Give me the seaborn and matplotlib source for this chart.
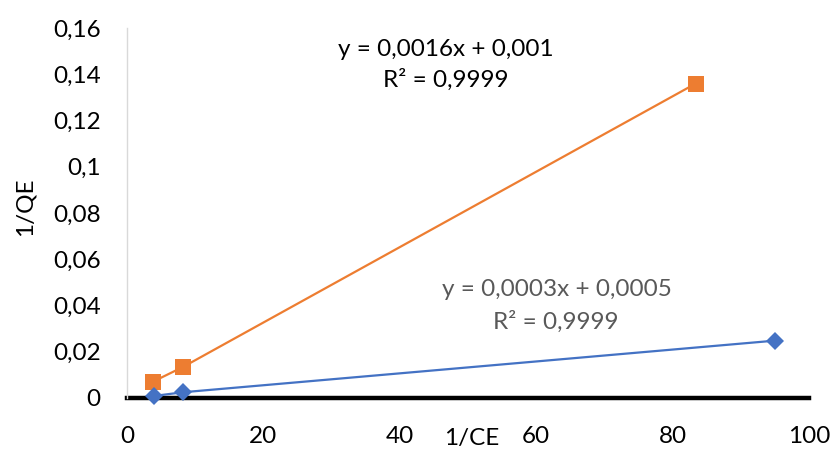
import matplotlib
matplotlib.use("Agg")
import matplotlib.pyplot as plt
import seaborn as sns
import pandas as pd

# Linearised isotherm data: 1/Ce vs 1/Qe for two series
ce_inv_orange = [3.77, 8.26, 83.4]
qe_inv_orange = [0.0070, 0.0135, 0.136]
ce_inv_blue = [4.0, 8.26, 95.0]
qe_inv_blue = [0.0009, 0.0025, 0.0248]

eq_orange = ["y = 0,0016x + 0,001", "R² = 0,9999"]
eq_blue = ["y = 0,0003x + 0,0005", "R² = 0,9999"]

x_ticks = [0, 20, 40, 60, 80, 100]
y_ticks = [0, 0.02, 0.04, 0.06, 0.08, 0.1, 0.12, 0.14, 0.16]
y_tick_labels = ["0", "0,02", "0,04", "0,06", "0,08", "0,1", "0,12", "0,14", "0,16"]

ORANGE = "#ED7D31"
BLUE = "#4472C4"
FS = 17.5

sns.set_theme(style="white")
plt.rcParams["font.family"] = ["Lato", "DejaVu Sans"]

df = pd.concat([
    pd.DataFrame({"x": ce_inv_orange, "y": qe_inv_orange, "s": "orange"}),
    pd.DataFrame({"x": ce_inv_blue, "y": qe_inv_blue, "s": "blue"}),
])

fig = plt.figure(figsize=(8.38, 4.53), dpi=100)
ax = fig.add_axes([127 / 838, 1 - 398 / 453, (809 - 127) / 838, (398 - 28) / 453])

sns.lineplot(data=df, x="x", y="y", hue="s", style="s",
             palette={"orange": ORANGE, "blue": BLUE},
             markers={"orange": "s", "blue": "D"}, dashes=False,
             markeredgewidth=0, linewidth=1.6,
             legend=False, ax=ax, zorder=3, clip_on=False)
# marker sizes per series
for line in ax.lines:
    if line.get_marker() == "s":
        line.set_markersize(11.5)
    elif line.get_marker() == "D":
        line.set_markersize(9.5)

ax.set_xlim(0, 100)
ax.set_ylim(0, 0.16)
ax.set_xticks(x_ticks)
ax.set_xticklabels([str(t) for t in x_ticks])
ax.set_yticks(y_ticks)
ax.set_yticklabels(y_tick_labels)
ax.tick_params(axis="both", length=0, labelsize=FS, colors="black")
ax.tick_params(axis="y", pad=19)
ax.tick_params(axis="x", pad=20)
ax.set_xlabel("")
ax.set_ylabel("")

for side in ["top", "right"]:
    ax.spines[side].set_visible(False)
ax.spines["left"].set_color("#D9D9D9")
ax.spines["left"].set_linewidth(1.0)
ax.spines["bottom"].set_color("black")
ax.spines["bottom"].set_linewidth(3.2)
ax.spines["bottom"].set_zorder(2)
ax.grid(False)

fig.text(25 / 838, 1 - 207 / 453, "1/QE", rotation=90, ha="center", va="center",
         fontsize=FS, color="black")
fig.text(472 / 838, 1 - 438 / 453, "1/CE", ha="center", va="center",
         fontsize=FS, color="black")

# trendline equations
texts = [(446, 49, eq_orange[0], "black"), (446, 80, eq_orange[1], "black"),
         (557, 290, eq_blue[0], "#595959"), (556, 322, eq_blue[1], "#595959")]
for px, py, t, col in texts:
    fig.text(px / 838, 1 - py / 453, t, ha="center", va="center",
             fontsize=FS, color=col)

fig.savefig("out.png", dpi=100)
